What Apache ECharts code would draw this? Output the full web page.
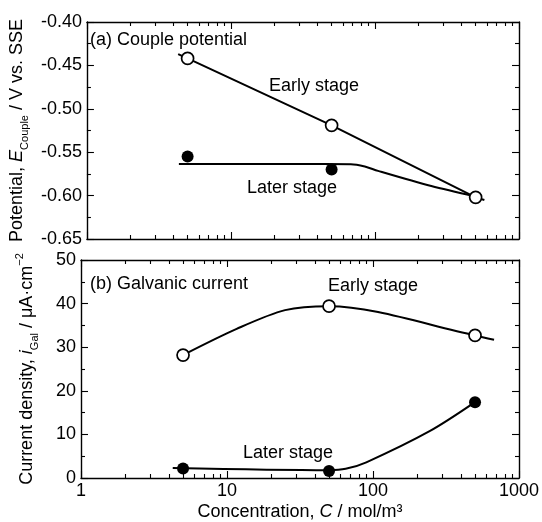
<!DOCTYPE html>
<html><head><meta charset="utf-8">
<script src="https://cdn.jsdelivr.net/npm/echarts@6/dist/echarts.min.js"></script>
<style>html,body{margin:0;padding:0;background:#fff}#c{width:542px;height:522px}</style>
</head><body><div id="c"></div>
<script>
const FONT = "'Liberation Sans', Arial, sans-serif";

// measured points (concentration, mol/m3)
const concentration = [5, 50, 500];
const potentialEarly = [-0.442, -0.519, -0.602];
const potentialLater = [-0.555, -0.570, -0.602];
const currentEarly = [28.2, 39.4, 32.7];
const currentLater = [2.2, 1.6, 17.4];

// guide curves drawn through the data
const potEarlyCurveC = [4.3, 5, 50, 500, 575];
const potEarlyCurveV = [-0.437, -0.442, -0.519, -0.602, -0.605];
const potLaterCurveC = [4.35, 30, 68, 85, 105, 246, 500];
const potLaterCurveV = [-0.5636, -0.5636, -0.5638, -0.5665, -0.5715, -0.589, -0.601];
const curEarlyCurveC = [5, 11.65, 25, 50, 500, 675];
const curEarlyCurveV = [28.2, 34.2, 38.5, 39.4, 32.7, 31.7];
const curLaterCurveC = [4.25, 50, 65, 90, 246, 500];
const curLaterCurveV = [2.3, 1.8, 2.1, 3.6, 10.8, 17.4];

// tick values
const minorXTicks = [2,3,4,5,6,7,8,9,20,30,40,50,60,70,80,90,200,300,400,500,600,700,800,900];

const zip = (a, b) => a.map((v, i) => [v, b[i]]);
const black = '#000';

function xAxesFor(grid, withLabels) {
  const base = {
    type: 'log', logBase: 10, min: 1, max: 1000, gridIndex: grid,
    splitLine: { show: false }
  };
  const major = (pos) => Object.assign({}, base, {
    position: pos,
    axisLine: { show: true, onZero: false, lineStyle: { color: black, width: 1.4 } },
    axisTick: { show: true, inside: true, length: 7, lineStyle: { color: black, width: 1.1 } },
    axisLabel: { show: withLabels && pos === 'bottom', color: black, fontSize: 18, fontFamily: FONT, margin: 4,
      formatter: v => String(Math.round(v)) }
  });
  const minor = (pos) => Object.assign({}, base, {
    position: pos,
    axisLine: { show: false, onZero: false },
    axisTick: { show: true, inside: true, length: 4, customValues: minorXTicks, lineStyle: { color: black, width: 1.1 } },
    axisLabel: { show: false }
  });
  const arr = [major('bottom'), major('top'), minor('bottom'), minor('top')];
  if (withLabels) {
    arr[0].name = '{t|Concentration, }{i|C}{t| / mol/m³}';
    arr[0].nameLocation = 'middle';
    arr[0].nameGap = 25;
    arr[0].nameTextStyle = { color: black, fontSize: 18, fontFamily: FONT,
      rich: { t: { fontSize: 18, fontFamily: FONT, color: black }, i: { fontSize: 18, fontFamily: FONT, color: black, fontStyle: 'italic' } } };
  }
  return arr;
}

function yAxesFor(grid, min, max, interval, fmt, name) {
  const base = {
    type: 'value', gridIndex: grid, min: min, max: max, interval: interval,
    splitLine: { show: false },
    axisLine: { show: true, onZero: false, lineStyle: { color: black, width: 1.4 } },
    axisTick: { show: true, inside: true, length: 7, lineStyle: { color: black, width: 1.1 } },
    minorTick: { show: true, splitNumber: 2, length: 4, lineStyle: { color: black, width: 1.1 } },
    minorSplitLine: { show: false }
  };
  const left = Object.assign({}, base, {
    position: 'left',
    axisLabel: { show: true, color: black, fontSize: 18, fontFamily: FONT, margin: 5, formatter: fmt },
    name: name, nameLocation: 'middle', nameGap: 41,
    nameTextStyle: { color: black, fontSize: 18, fontFamily: FONT,
      rich: {
        t: { fontSize: 18, fontFamily: FONT, color: black, lineHeight: 26, verticalAlign: 'middle' },
        i: { fontSize: 18, fontFamily: FONT, color: black, fontStyle: 'italic', lineHeight: 26, verticalAlign: 'middle' },
        s: { fontSize: 11, fontFamily: FONT, color: black, lineHeight: 14, verticalAlign: 'bottom' },
        p: { fontSize: 11, fontFamily: FONT, color: black, lineHeight: 14, verticalAlign: 'top' }
      } }
  });
  const right = Object.assign({}, base, { position: 'right', axisLabel: { show: false } });
  return [left, right];
}

function curve(xi, yi, data, smooth) {
  return { type: 'line', xAxisIndex: xi, yAxisIndex: yi, data: data, symbol: 'none', showSymbol: false,
    smooth: smooth, lineStyle: { color: black, width: 2 }, z: 2, silent: true };
}
function pts(xi, yi, data, open) {
  return { type: 'scatter', xAxisIndex: xi, yAxisIndex: yi, data: data, symbol: 'circle', symbolSize: 12,
    itemStyle: open ? { color: '#fff', borderColor: black, borderWidth: 1.7, opacity: 1 } : { color: black, opacity: 1 },
    z: open ? 5 : 4, silent: true };
}

const txt = (x, y, text) => ({ type: 'text', x: x, y: y, silent: true,
  style: { text: text, fill: black, fontSize: 18, fontFamily: FONT, verticalAlign: 'middle', align: 'left' } });

const chart = echarts.init(document.getElementById('c'), null, { renderer: 'canvas' });
chart.setOption({
  animation: false,
  backgroundColor: '#fff',
  grid: [
    { left: 81, right: 23, top: 22, height: 217 },
    { left: 81, right: 23, top: 260, height: 219 }
  ],
  xAxis: xAxesFor(0, false).concat(xAxesFor(1, true)),
  yAxis: yAxesFor(0, -0.65, -0.40, 0.05, v => v.toFixed(2), '{t|Potential, }{i|E}{s|Couple}{t| / V vs. SSE}')
    .concat(yAxesFor(1, 0, 50, 10, v => String(v), '{t|Current density, }{i|i}{s|Gal}{t| / μA·cm}{p|−2}')),
  series: [
    curve(0, 0, zip(potEarlyCurveC, potEarlyCurveV), false),
    curve(0, 0, zip(potLaterCurveC, potLaterCurveV), 0.3),
    pts(0, 0, zip(concentration, potentialLater), false),
    pts(0, 0, zip(concentration, potentialEarly), true),
    curve(4, 2, zip(curEarlyCurveC, curEarlyCurveV), 0.3),
    curve(4, 2, zip(curLaterCurveC, curLaterCurveV), 0.3),
    pts(4, 2, zip(concentration, currentLater), false),
    pts(4, 2, zip(concentration, currentEarly), true)
  ],
  graphic: [
    txt(90, 40.5, '(a) Couple potential'),
    txt(269, 86.5, 'Early stage'),
    txt(247, 188.5, 'Later stage'),
    txt(90, 284, '(b) Galvanic current'),
    txt(328, 286.5, 'Early stage'),
    txt(243, 453, 'Later stage')
  ]
});
</script>
</body></html>
